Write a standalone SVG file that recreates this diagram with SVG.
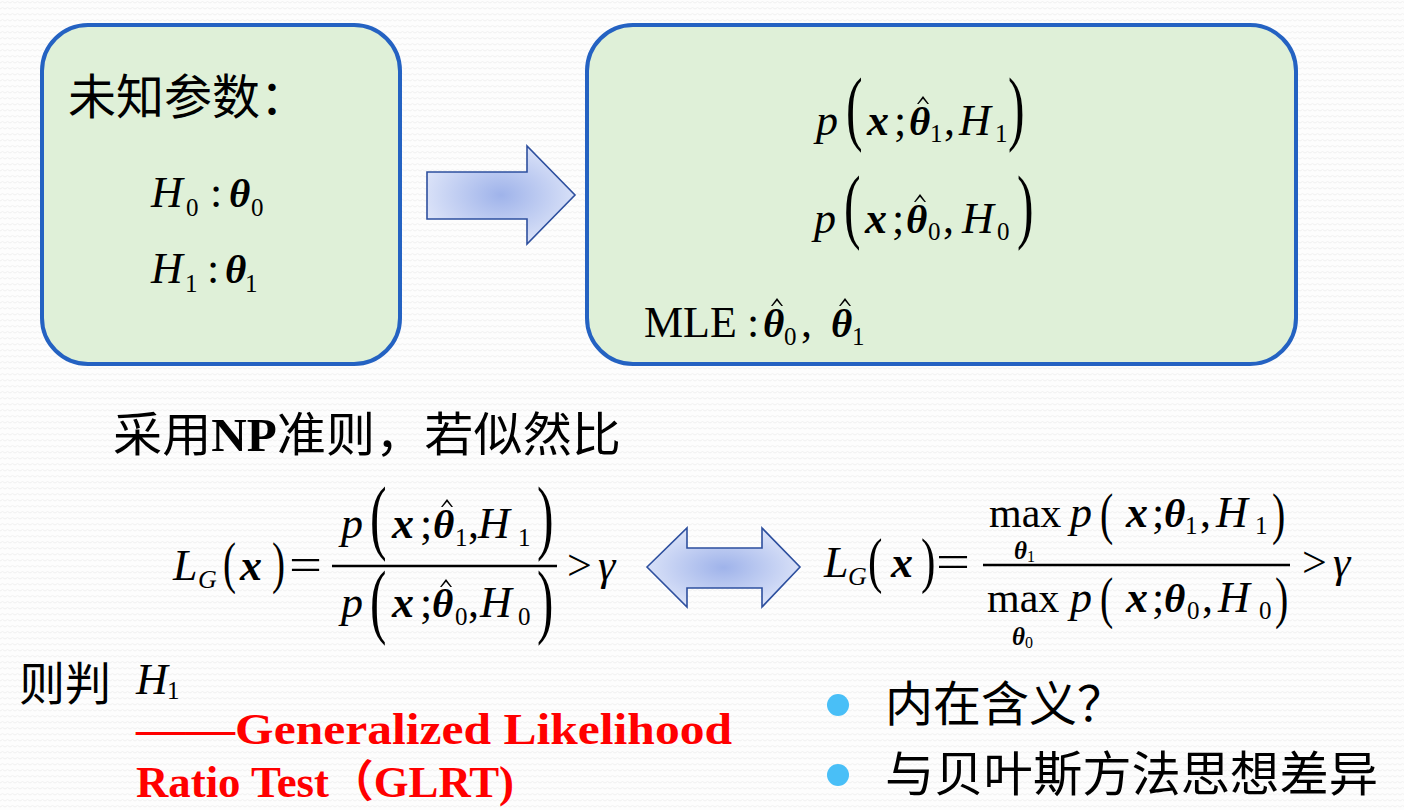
<svg xmlns="http://www.w3.org/2000/svg" width="1404" height="810" viewBox="0 0 1404 810">
<defs>
<pattern id="bgp" width="10" height="6" patternUnits="userSpaceOnUse">
<rect width="10" height="6" fill="#fdfdfd"/>
<path d="M0 3 L2.5 1.5 L5 3 L7.5 1.5 L10 3" fill="none" stroke="#f1f1f1" stroke-width="1"/>
</pattern>
<radialGradient id="ag" cx="0.5" cy="0.5" r="0.6">
<stop offset="0" stop-color="#9fb3ea"/>
<stop offset="1" stop-color="#e3e9fa"/>
</radialGradient>
<path id="hat" d="M0 8 L6 0 L12 8 L10.4 8 L6 2.7 L1.6 8 Z" fill="#000"/>
<style>
.box{fill:#dff0d8;stroke:#2462c2;stroke-width:4}
.arr{fill:url(#ag);stroke:#2d4f9e;stroke-width:1.6}
.cjk{font-family:"Noto Sans CJK SC",sans-serif;fill:#000}
.mi{font-family:"Liberation Serif",serif;font-style:italic;fill:#000;font-size:44px}
.bi{font-family:"Liberation Serif",serif;font-style:italic;font-weight:bold}
.th{font-family:"Liberation Serif",serif;font-style:italic;font-weight:bold;font-size:41px}
.up{font-family:"Liberation Serif",serif;font-style:normal;font-weight:normal}
.sub{font-family:"Liberation Serif",serif;font-style:normal;font-weight:normal;font-size:25px}
.par{font-family:"Liberation Serif",serif;font-style:normal;fill:#000}
.red{font-family:"Liberation Serif","Noto Sans CJK SC",serif;font-weight:bold;fill:#ff0000}
.dot{fill:#49bff7}
</style>
</defs>
<rect width="1404" height="810" fill="url(#bgp)"/>

<g id="node-unknown">
<rect class="box" x="42" y="25" width="358" height="339" rx="46"/>
<text class="cjk" x="68" y="114" font-size="48">未知参数：</text>
<text class="mi"><tspan x="151" y="207">H</tspan><tspan class="sub" x="186" y="216">0</tspan><tspan class="up" x="210" y="207">:</tspan><tspan class="th" x="229" y="207">θ</tspan><tspan class="sub" x="251" y="216">0</tspan></text>
<text class="mi"><tspan x="151" y="283">H</tspan><tspan class="sub" x="185" y="292">1</tspan><tspan class="up" x="207" y="283">:</tspan><tspan class="th" x="225" y="283">θ</tspan><tspan class="sub" x="245" y="292">1</tspan></text>
</g>

<g id="connectors">
<path id="arrow-right" class="arr" d="M427 172 L527 172 L527 146 L575 195 L527 244 L527 219 L427 219 Z"/>
<path id="arrow-both" class="arr" d="M647 567 L687 528 L687 548 L762 548 L762 528 L800 567 L762 607 L762 588 L687 588 L687 607 Z"/>
</g>

<g id="node-mle">
<rect class="box" x="587" y="25" width="709" height="339" rx="46"/>
<g transform="translate(816,135)">
<text class="mi"><tspan x="0" y="0">p</tspan><tspan class="bi" x="51" y="0">x</tspan><tspan class="up" x="78" y="0">;</tspan><tspan class="th" x="93" y="0">θ</tspan><tspan class="sub" x="114" y="7">1</tspan><tspan class="up" x="128" y="0">,</tspan><tspan x="143" y="0">H</tspan><tspan class="sub" x="179" y="7">1</tspan></text>
<use href="#hat" x="101" y="-39"/>
<text class="par" font-size="83" transform="translate(30,0) scale(0.6,1)">(</text>
<text class="par" font-size="83" transform="translate(192,0) scale(0.6,1)">)</text>
</g>
<g transform="translate(814,233)">
<text class="mi"><tspan x="0" y="0">p</tspan><tspan class="bi" x="51" y="0">x</tspan><tspan class="up" x="78" y="0">;</tspan><tspan class="th" x="92" y="0">θ</tspan><tspan class="sub" x="114" y="7">0</tspan><tspan class="up" x="129" y="0">,</tspan><tspan x="148" y="0">H</tspan><tspan class="sub" x="183" y="7">0</tspan></text>
<use href="#hat" x="100" y="-39"/>
<text class="par" font-size="83" transform="translate(30,0) scale(0.6,1)">(</text>
<text class="par" font-size="83" transform="translate(203,0) scale(0.6,1)">)</text>
</g>
<text class="up" font-size="44" x="644" y="337">MLE</text>
<text class="up" font-size="44"><tspan x="747" y="337">:</tspan><tspan class="th" x="763" y="337">θ</tspan><tspan class="sub" x="784" y="345">0</tspan><tspan x="801" y="337">,</tspan><tspan class="th" x="831" y="337">θ</tspan><tspan class="sub" x="852" y="345">1</tspan></text>
<use href="#hat" x="771" y="298"/>
<use href="#hat" x="839" y="298"/>
</g>

<g id="node-np">
<text class="cjk" x="113" y="451" font-size="47" textLength="508" lengthAdjust="spacingAndGlyphs">采用<tspan font-family="Liberation Serif" font-weight="bold">NP</tspan>准则，若似然比</text>
</g>

<g id="node-glrt-hat">
<g transform="translate(173,580)">
<text class="mi"><tspan x="0" y="0">L</tspan><tspan x="25" y="8" font-size="26">G</tspan><tspan class="bi" x="67" y="0">x</tspan></text>
<text class="par" font-size="56" transform="translate(50,2) scale(0.7,1)">(</text>
<text class="par" font-size="56" transform="translate(99,2) scale(0.7,1)">)</text>
<text class="up" font-size="46" x="116" y="0" textLength="33" lengthAdjust="spacingAndGlyphs">=</text>
</g>
<line x1="332" y1="566" x2="557" y2="566" stroke="#000" stroke-width="2.5"/>
<g transform="translate(341,538)">
<text class="mi"><tspan x="0" y="0">p</tspan><tspan class="bi" x="51" y="0">x</tspan><tspan class="up" x="79" y="0">;</tspan><tspan class="th" x="92" y="0">θ</tspan><tspan class="sub" x="114" y="8">1</tspan><tspan class="up" x="127" y="0">,</tspan><tspan x="137" y="0">H</tspan><tspan class="sub" x="177" y="8">1</tspan></text>
<use href="#hat" x="100" y="-39"/>
<text class="par" font-size="83" transform="translate(29,6) scale(0.6,1)">(</text>
<text class="par" font-size="83" transform="translate(196,6) scale(0.6,1)">)</text>
</g>
<g transform="translate(341,617)">
<text class="mi"><tspan x="0" y="0">p</tspan><tspan class="bi" x="51" y="0">x</tspan><tspan class="up" x="79" y="0">;</tspan><tspan class="th" x="91" y="0">θ</tspan><tspan class="sub" x="114" y="8">0</tspan><tspan class="up" x="127" y="0">,</tspan><tspan x="139" y="0">H</tspan><tspan class="sub" x="177" y="8">0</tspan></text>
<use href="#hat" x="99" y="-38"/>
<text class="par" font-size="82" transform="translate(29,11) scale(0.6,1)">(</text>
<text class="par" font-size="82" transform="translate(196,11) scale(0.6,1)">)</text>
</g>
<text class="up" font-size="44" x="567" y="580">&gt;</text>
<text class="mi" x="598" y="580">γ</text>
</g>

<g id="node-glrt-max">
<g transform="translate(824,577)">
<text class="mi"><tspan x="0" y="0">L</tspan><tspan x="24" y="8" font-size="26">G</tspan><tspan class="bi" x="67" y="0">x</tspan></text>
<text class="par" font-size="62" transform="translate(44,4) scale(0.7,1)">(</text>
<text class="par" font-size="62" transform="translate(97,4) scale(0.7,1)">)</text>
<text class="up" font-size="46" x="112" y="0" textLength="34" lengthAdjust="spacingAndGlyphs">=</text>
</g>
<line x1="983" y1="565" x2="1290" y2="565" stroke="#000" stroke-width="2.5"/>
<text class="up" font-size="42" x="989" y="527">max</text>
<text class="bi" font-size="25" x="1014" y="559">θ<tspan class="up" font-size="16" dy="3">1</tspan></text>
<g transform="translate(1070,527)">
<text class="mi"><tspan x="0" y="0">p</tspan><tspan class="bi" x="56" y="0">x</tspan><tspan class="up" x="82" y="0">;</tspan><tspan class="th" x="94" y="0">θ</tspan><tspan class="sub" x="115" y="7">1</tspan><tspan class="up" x="130" y="0">,</tspan><tspan x="146" y="0">H</tspan><tspan class="sub" x="185" y="7">1</tspan></text>
<text class="par" font-size="57" transform="translate(30,6) scale(0.7,1)">(</text>
<text class="par" font-size="57" transform="translate(202,6) scale(0.7,1)">)</text>
</g>
<text class="up" font-size="42" x="987" y="612">max</text>
<text class="bi" font-size="25" x="1012" y="645">θ<tspan class="up" font-size="16" dy="3">0</tspan></text>
<g transform="translate(1070,612)">
<text class="mi"><tspan x="0" y="0">p</tspan><tspan class="bi" x="56" y="0">x</tspan><tspan class="up" x="82" y="0">;</tspan><tspan class="th" x="94" y="0">θ</tspan><tspan class="sub" x="117" y="7">0</tspan><tspan class="up" x="132" y="0">,</tspan><tspan x="148" y="0">H</tspan><tspan class="sub" x="189" y="7">0</tspan></text>
<text class="par" font-size="57" transform="translate(30,5) scale(0.7,1)">(</text>
<text class="par" font-size="57" transform="translate(205,5) scale(0.7,1)">)</text>
</g>
<text class="up" font-size="44" x="1302" y="577">&gt;</text>
<text class="mi" x="1333" y="577">γ</text>
</g>

<g id="node-decide">
<text class="cjk" x="19" y="700" font-size="46">则判</text>
<text class="mi" font-size="42"><tspan x="136" y="694">H</tspan><tspan class="sub" font-size="23" x="167" y="699">1</tspan></text>
<text class="red" font-size="44" x="136" y="744" textLength="596" lengthAdjust="spacingAndGlyphs">——Generalized Likelihood</text>
<text class="red" font-size="44" x="136" y="797" textLength="378" lengthAdjust="spacingAndGlyphs">Ratio Test（GLRT)</text>
</g>

<g id="node-bullets">
<circle class="dot" cx="838" cy="705" r="11"/>
<text class="cjk" x="885" y="721" font-size="48">内在含义？</text>
<circle class="dot" cx="838" cy="775" r="11"/>
<text class="cjk" x="885" y="791" font-size="48" textLength="493" lengthAdjust="spacingAndGlyphs">与贝叶斯方法思想差异</text>
</g>
</svg>
